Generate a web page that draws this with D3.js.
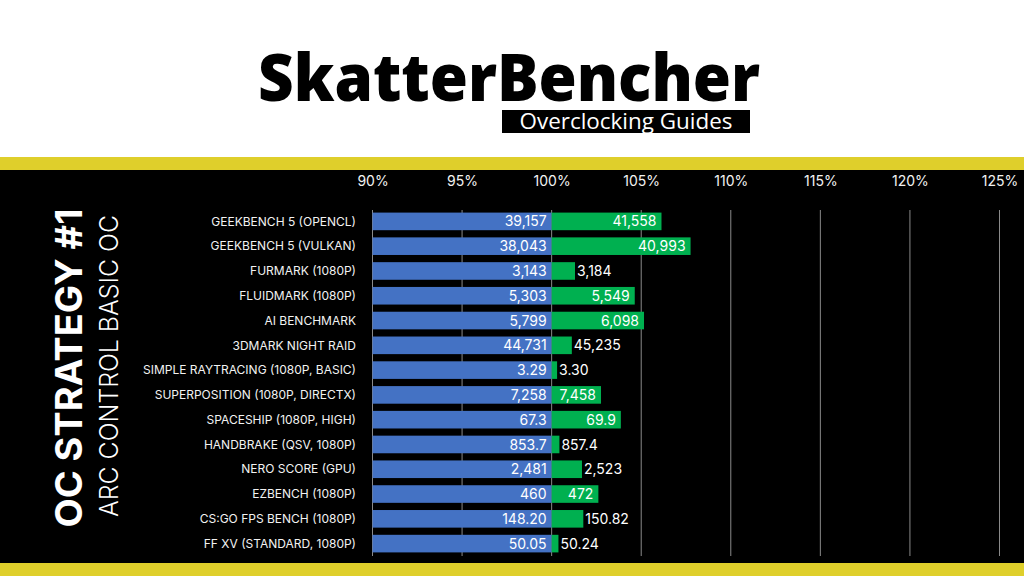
<!DOCTYPE html>
<html>
<head>
<meta charset="utf-8">
<script src="https://cdnjs.cloudflare.com/ajax/libs/d3/7.8.5/d3.min.js"></script>
<style>
  html, body { margin: 0; padding: 0; background: #fff; }
  svg { display: block; }
</style>
</head>
<body>
<div id="chart"></div>
<script>
'use strict';

var categories = ['GEEKBENCH 5 (OPENCL)', 'GEEKBENCH 5 (VULKAN)', 'FURMARK (1080P)', 'FLUIDMARK (1080P)',
  'AI BENCHMARK', '3DMARK NIGHT RAID', 'SIMPLE RAYTRACING (1080P, BASIC)', 'SUPERPOSITION (1080P, DIRECTX)',
  'SPACESHIP (1080P, HIGH)', 'HANDBRAKE (QSV, 1080P)', 'NERO SCORE (GPU)', 'EZBENCH (1080P)',
  'CS:GO FPS BENCH (1080P)', 'FF XV (STANDARD, 1080P)']
var stockValues = [39157, 38043, 3143, 5303, 5799, 44731, 3.29, 7258, 67.3, 853.7, 2481, 460, 148.20, 50.05]
var ocValues = [41558, 40993, 3184, 5549, 6098, 45235, 3.30, 7458, 69.9, 857.4, 2523, 472, 150.82, 50.24]
var decimals = [0, 0, 0, 0, 0, 0, 2, 0, 1, 1, 0, 0, 2, 2]
var ticks = [90, 95, 100, 105, 110, 115, 120, 125]

var W = 1024, H = 576
var svg = d3.select('#chart').append('svg').attr('width', W).attr('height', H)
var font = "Inter, 'Open Sans', sans-serif"

// background bands
svg.append('rect').attr('x', 0).attr('y', 0).attr('width', W).attr('height', 157).attr('fill', '#fff')
svg.append('rect').attr('x', 0).attr('y', 157).attr('width', W).attr('height', 13).attr('fill', '#DFCF2B')
svg.append('rect').attr('x', 0).attr('y', 170).attr('width', W).attr('height', 393).attr('fill', '#000')
svg.append('rect').attr('x', 0).attr('y', 563).attr('width', W).attr('height', 13).attr('fill', '#DFCF2B')

// header
svg.append('text')
  .attr('x', 258).attr('y', 101)
  .attr('textLength', 502).attr('lengthAdjust', 'spacingAndGlyphs')
  .style('font-family', "'Open Sans', sans-serif").style('font-weight', 800)
  .style('font-size', '66px').style('fill', '#000')
  .text('SkatterBencher')
svg.append('rect').attr('x', 502).attr('y', 110).attr('width', 248).attr('height', 23).attr('fill', '#000')
svg.append('text')
  .attr('x', 626).attr('y', 129).attr('text-anchor', 'middle')
  .attr('textLength', 213).attr('lengthAdjust', 'spacingAndGlyphs')
  .style('font-family', "'Open Sans', sans-serif").style('font-weight', 400)
  .style('font-size', '21px').style('fill', '#fff')
  .text('Overclocking Guides')

// side titles
svg.append('text')
  .attr('transform', 'translate(82,368) rotate(-90)')
  .attr('text-anchor', 'middle')
  .attr('textLength', 319).attr('lengthAdjust', 'spacingAndGlyphs')
  .style('font-family', font).style('font-weight', 700)
  .style('font-size', '37px').style('fill', '#fff')
  .text('OC STRATEGY #1')
svg.append('text')
  .attr('transform', 'translate(118,366) rotate(-90)')
  .attr('text-anchor', 'middle')
  .attr('textLength', 302).attr('lengthAdjust', 'spacingAndGlyphs')
  .style('font-family', font).style('font-weight', 300)
  .style('font-size', '25px').style('fill', '#fff')
  .text('ARC CONTROL BASIC OC')

// scales
var x = d3.scaleLinear().domain([90, 125]).range([372.5, 999.5])
var y = d3.scaleBand().domain(categories).range([209, 556]).paddingInner(0.29).paddingOuter(0.145)

var g = svg.append('g')

// gridlines
g.selectAll('.grid').data(ticks).enter().append('line')
  .attr('class', 'grid')
  .attr('x1', function(d) { return x(d) }).attr('x2', function(d) { return x(d) })
  .attr('y1', 210).attr('y2', 556)
  .style('stroke', '#8a8a8a').style('stroke-width', 1)

// top axis labels
var axis = g.append('g').attr('transform', 'translate(0,170)')
  .call(d3.axisTop(x).tickValues(ticks).tickSize(0).tickFormat(function(d) { return d + '%' }))
axis.select('.domain').remove()
axis.selectAll('text')
  .attr('y', 16)
  .style('font-family', font).style('font-size', '14px').style('fill', '#f2f2f2')

// category labels
g.selectAll('.cat').data(categories).enter().append('text')
  .attr('class', 'cat')
  .attr('x', 356)
  .attr('y', function(d) { return y(d) + y.bandwidth() / 2 })
  .attr('dy', '0.35em').attr('text-anchor', 'end')
  .style('font-family', font).style('font-size', '12px').style('fill', '#f2f2f2')
  .text(function(d) { return d })

var pct = ocValues.map(function(v, i) { return v / stockValues[i] * 100 })

// stock bars (baseline = 100%)
g.selectAll('.stock').data(categories).enter().append('rect')
  .attr('class', 'stock')
  .attr('x', x(90)).attr('y', function(d) { return y(d) })
  .attr('width', x(100) - x(90)).attr('height', y.bandwidth())
  .style('fill', '#4472C4')

// oc bars
g.selectAll('.oc').data(categories).enter().append('rect')
  .attr('class', 'oc')
  .attr('x', x(100)).attr('y', function(d) { return y(d) })
  .attr('width', function(d, i) { return x(pct[i]) - x(100) }).attr('height', y.bandwidth())
  .style('fill', '#00B050')

function fmt(v, i) { return d3.format(',.' + decimals[i] + 'f')(v) }

// stock labels
g.selectAll('.slab').data(categories).enter().append('text')
  .attr('class', 'slab')
  .attr('x', x(100) - 5)
  .attr('y', function(d) { return y(d) + y.bandwidth() / 2 })
  .attr('dy', '0.36em').attr('text-anchor', 'end')
  .style('font-family', font).style('font-size', '14px').style('fill', '#fff')
  .text(function(d, i) { return fmt(stockValues[i], i) })

// oc labels: inside end if it fits, else outside
g.selectAll('.olab').data(categories).enter().append('text')
  .attr('class', 'olab')
  .attr('y', function(d) { return y(d) + y.bandwidth() / 2 })
  .attr('dy', '0.36em')
  .style('font-family', font).style('font-size', '14px').style('fill', '#fff')
  .text(function(d, i) { return fmt(ocValues[i], i) })
  .each(function(d, i) {
    var t = d3.select(this)
    var w = this.getComputedTextLength()
    var barW = x(pct[i]) - x(100)
    if (barW > w + 8) {
      t.attr('x', x(pct[i]) - 5).attr('text-anchor', 'end')
    } else {
      t.attr('x', x(pct[i]) + 2).attr('text-anchor', 'start')
    }
  })
</script>
</body>
</html>
